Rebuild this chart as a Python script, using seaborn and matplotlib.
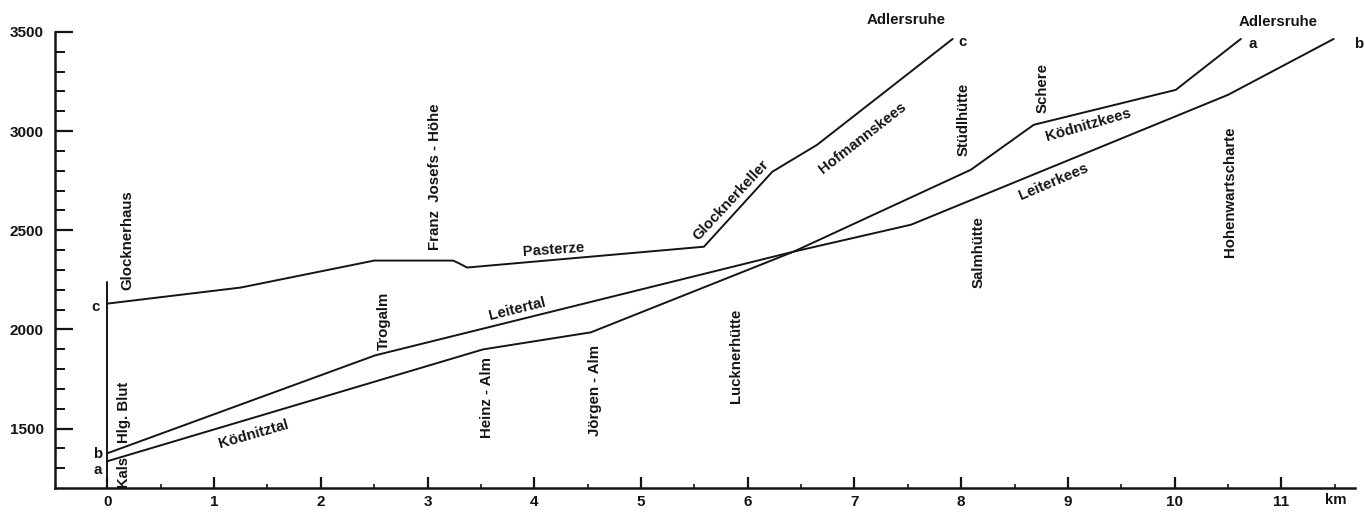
import matplotlib
matplotlib.use("Agg")
import matplotlib.pyplot as plt
import seaborn as sns
import pandas as pd
import numpy as np

# ---- data (km, m) ----
a_km = [0.0, 3.52, 4.53, 6.43, 8.09, 8.68, 10.01, 10.62]
a_elev = [1335, 1899, 1985, 2392, 2805, 3032, 3208, 3465]

b_km = [0.0, 2.51, 6.43, 7.53, 10.5, 11.49]
b_elev = [1375, 1869, 2392, 2528, 3183, 3465]

c_km = [0.0, 1.25, 2.5, 3.24, 3.3, 3.37, 5.59, 6.23, 6.65, 7.92]
c_elev = [2130, 2211, 2347, 2347, 2332, 2312, 2417, 2795, 2931, 3465]

start_km = [0.0, 0.0]
start_elev = [1200, 2241]

y_ticks = [1500, 2000, 2500, 3000, 3500]
x_ticks = list(range(0, 12))

sns.set_theme(style="white")
plt.rcParams["font.family"] = ["Liberation Sans", "DejaVu Sans"]
plt.rcParams["font.weight"] = "bold"

ink = "#141414"
fig = plt.figure(figsize=(13.65, 5.12), dpi=100)
ax = fig.add_axes([0.0403, 0.0469, 0.9524, 0.8906])

for xs, ys in [(a_km, a_elev), (b_km, b_elev), (c_km, c_elev), (start_km, start_elev)]:
    df = pd.DataFrame({"km": xs, "m": ys})
    sns.lineplot(data=df, x="km", y="m", sort=False, estimator=None,
                 color=ink, linewidth=1.4, ax=ax)

ax.set_xlim(-0.49, 11.69)
ax.set_ylim(1200, 3500)
ax.set_xlabel("")
ax.set_ylabel("")
for s in ["top", "right"]:
    ax.spines[s].set_visible(False)
for s in ["left", "bottom"]:
    ax.spines[s].set_color(ink)
    ax.spines[s].set_linewidth(1.8)

ax.set_yticks(y_ticks)
ax.set_yticklabels([str(v) for v in y_ticks])
ax.set_yticks(np.arange(1300, 3500, 100), minor=True)
ax.set_xticks(x_ticks)
ax.set_xticklabels([str(v) for v in x_ticks])
ax.set_xticks(np.arange(0.5, 11.6, 1.0), minor=True)

ax.tick_params(axis="y", which="major", direction="in", length=13, width=1.6,
               color=ink, labelsize=11, pad=8, labelcolor=ink, left=True)
ax.tick_params(axis="y", which="minor", direction="in", length=7, width=1.4,
               color=ink, left=True)
ax.tick_params(axis="x", which="major", direction="in", length=8, width=1.6,
               color=ink, labelsize=11, pad=5, labelcolor=ink, bottom=True)
ax.tick_params(axis="x", which="minor", direction="in", length=3, width=1.2,
               color=ink, bottom=True)
for t in ax.get_xticklabels() + ax.get_yticklabels():
    t.set_fontweight("bold")

fs = 10.8

def lab(x, y, s, rot=0, size=fs, **kw):
    ax.text(x, y, s, rotation=rot, ha="center", va="center", fontsize=size,
            fontweight="bold", color=ink, clip_on=False,
            rotation_mode="anchor", **kw)

# vertical labels
lab(0.19, 2448, "Glocknerhaus", 90)
lab(0.16, 1582, "Hlg. Blut", 90)
lab(0.15, 1285, "Kals", 90, size=10.5)
lab(2.59, 2045, "Trogalm", 90)
lab(3.07, 2770, "Franz  Josefs - Höhe", 90)
lab(3.56, 1657, "Heinz - Alm", 90)
lab(4.57, 1692, "Jörgen - Alm", 90)
lab(5.89, 1864, "Lucknerhütte", 90)
lab(8.02, 3057, "Stüdlhütte", 90)
lab(8.76, 3218, "Schere", 90)
lab(8.16, 2392, "Salmhütte", 90)
lab(10.52, 2694, "Hohenwartscharte", 90)

# inclined labels
lab(4.18, 2402, "Pasterze", 4)
lab(3.84, 2100, "Leitertal", 14)
lab(1.37, 1471, "Ködnitztal", 16)
lab(5.84, 2654, "Glocknerkeller", 47)
lab(7.08, 2966, "Hofmannskees", 38)
lab(9.19, 3032, "Ködnitzkees", 16)
lab(8.87, 2745, "Leiterkees", 23)

# horizontal labels
lab(7.48, 3560, "Adlersruhe")
lab(10.97, 3550, "Adlersruhe")
lab(8.01, 3450, "c")
lab(10.73, 3440, "a")
lab(11.72, 3440, "b")
lab(-0.11, 2115, "c")
lab(-0.09, 1370, "b")
lab(-0.09, 1290, "a")
lab(11.51, 1137, "km")

fig.savefig("out.png", dpi=100, facecolor="white")
